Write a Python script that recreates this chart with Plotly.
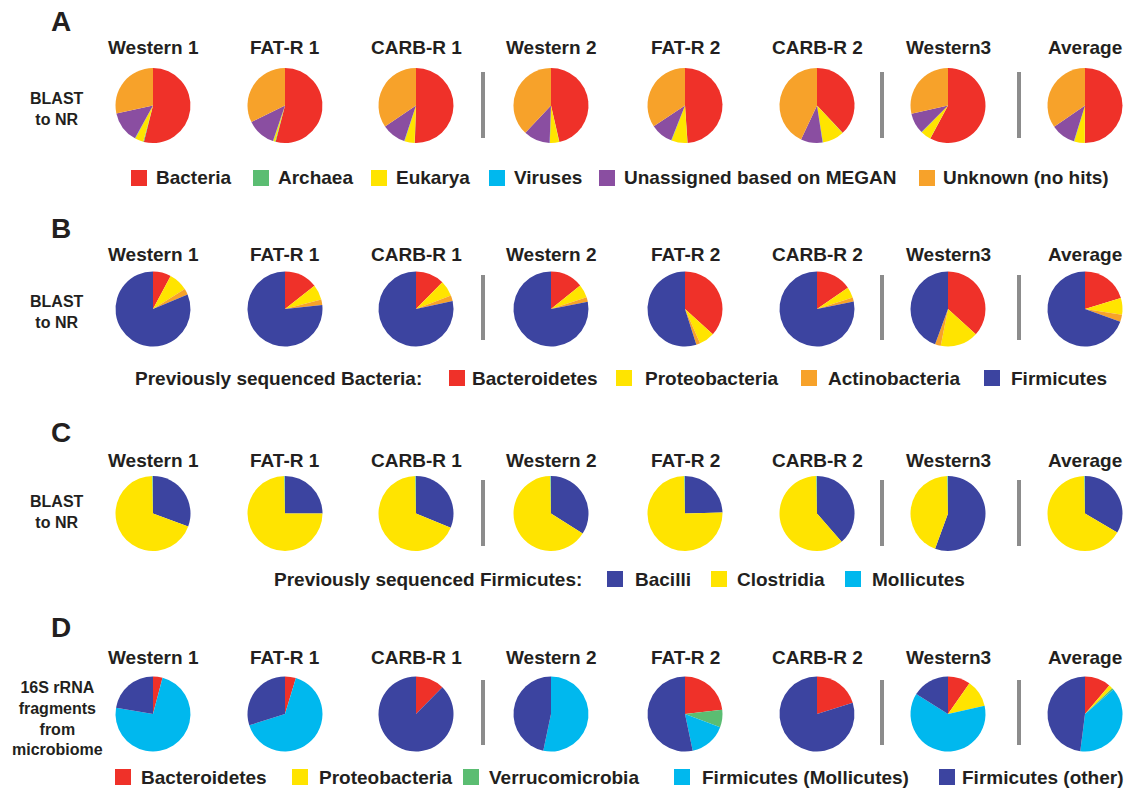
import plotly.graph_objects as go

# ---- data -------------------------------------------------------------
samples = ["Western 1", "FAT-R 1", "CARB-R 1", "Western 2",
           "FAT-R 2", "CARB-R 2", "Western3", "Average"]

# Panel A: domain-level assignment (BLAST to NR), % of reads
a_categories = ["Bacteria", "Archaea", "Eukarya", "Viruses",
                "Unassigned based on MEGAN", "Unknown (no hits)"]
a_bacteria = [53.9, 54.0, 50.5, 46.4, 48.9, 38.0, 57.8, 50.0]
a_archaea = [0.3, 0.3, 0.1, 0.1, 0.1, 0.1, 0.1, 0.1]
a_eukarya = [3.7, 0.8, 4.4, 4.0, 6.9, 9.4, 4.5, 4.6]
a_viruses = [0.1, 0.1, 0.1, 0.1, 0.1, 0.1, 0.1, 0.1]
a_unassigned = [13.6, 12.5, 10.4, 11.4, 9.7, 9.4, 9.0, 10.6]
a_unknown = [28.4, 32.3, 34.5, 38.0, 34.3, 43.0, 28.5, 34.6]

# Panel B: previously sequenced Bacteria, % of bacterial reads
b_categories = ["Bacteroidetes", "Proteobacteria", "Actinobacteria", "Firmicutes"]
b_bacteroidetes = [7.8, 14.4, 12.4, 14.2, 36.7, 15.4, 36.7, 20.3]
b_proteobacteria = [8.3, 6.5, 6.7, 5.7, 6.7, 4.6, 16.4, 7.2]
b_actinobacteria = [2.6, 2.4, 2.5, 2.0, 1.7, 1.8, 2.5, 3.0]
b_firmicutes = [81.3, 76.7, 78.4, 78.1, 54.9, 78.2, 44.4, 69.5]

# Panel C: previously sequenced Firmicutes, % of Firmicutes reads
c_categories = ["Bacilli", "Clostridia", "Mollicutes"]
c_bacilli = [30.6, 25.0, 31.2, 34.0, 24.6, 38.6, 55.6, 33.5]
c_clostridia = [69.2, 74.8, 68.6, 65.8, 75.2, 61.2, 44.2, 66.3]
c_mollicutes = [0.2, 0.2, 0.2, 0.2, 0.2, 0.2, 0.2, 0.2]

# Panel D: 16S rRNA fragments from microbiome, % of 16S reads
d_categories = ["Bacteroidetes", "Proteobacteria", "Verrucomicrobia",
                "Firmicutes (Mollicutes)", "Firmicutes (other)"]
d_bacteroidetes = [4.1, 4.7, 12.4, 0.0, 23.2, 20.1, 9.7, 11.2]
d_proteobacteria = [0.0, 0.0, 0.0, 0.0, 0.0, 0.0, 11.8, 1.7]
d_verrucomicrobia = [0.0, 0.0, 0.0, 0.0, 7.5, 0.0, 0.0, 0.8]
d_mollicutes = [73.6, 65.4, 0.0, 53.3, 16.0, 0.0, 62.4, 38.3]
d_other = [22.3, 29.9, 87.6, 46.7, 53.3, 79.9, 16.1, 48.0]

# ---- styling ----------------------------------------------------------
RED, GREEN, YELLOW = "#ef3129", "#5bbd72", "#ffe400"
CYAN, PURPLE, ORANGE, BLUE = "#00b8ee", "#8a4ea1", "#f7a22a", "#3c44a0"
TEXT = "#231f20"
FONT = "Liberation Sans, Arial, sans-serif"
LABEL_SIZE = 19

W, H = 1130, 790
col_x = [153, 285, 416, 551, 685, 817, 948, 1085]
sep_x = [483, 882, 1019]
PIE_D = 75

panels = [
    dict(letter="A", letter_y=21, title_y=48, pie_y=105.5, sep=(72, 138),
         side="BLAST<br>to NR", side_y=109,
         cats=a_categories,
         series=[a_bacteria, a_archaea, a_eukarya, a_viruses, a_unassigned, a_unknown],
         colors=[RED, GREEN, YELLOW, CYAN, PURPLE, ORANGE],
         leg_y=178, leg_prefix=None,
         leg_sq=[131, 253, 371, 489, 599, 919],
         leg_tx=[154, 276, 394, 512, 622, 941]),
    dict(letter="B", letter_y=228, title_y=255, pie_y=309, sep=(275, 340),
         side="BLAST<br>to NR", side_y=312,
         cats=b_categories,
         series=[b_bacteroidetes, b_proteobacteria, b_actinobacteria, b_firmicutes],
         colors=[RED, YELLOW, ORANGE, BLUE],
         leg_y=378, leg_prefix=("Previously sequenced Bacteria:", 133),
         leg_sq=[449, 616, 801, 984],
         leg_tx=[470, 643, 826, 1009]),
    dict(letter="C", letter_y=432, title_y=460, pie_y=513.5, sep=(480, 546),
         side="BLAST<br>to NR", side_y=512,
         cats=c_categories,
         series=[c_bacilli, c_clostridia, c_mollicutes],
         colors=[BLUE, YELLOW, CYAN],
         leg_y=579, leg_prefix=("Previously sequenced Firmicutes:", 272),
         leg_sq=[607, 711, 845],
         leg_tx=[633, 735, 870]),
    dict(letter="D", letter_y=627, title_y=657, pie_y=714, sep=(680, 745),
         side="16S rRNA<br>fragments<br>from<br>microbiome", side_y=718,
         cats=d_categories,
         series=[d_bacteroidetes, d_proteobacteria, d_verrucomicrobia, d_mollicutes, d_other],
         colors=[RED, YELLOW, GREEN, CYAN, BLUE],
         leg_y=777, leg_prefix=None,
         leg_sq=[115, 292, 463, 674, 939],
         leg_tx=[139, 317, 487, 700, 960]),
]


def px(x):
    return x / W


def py(y):
    return 1 - y / H


fig = go.Figure()
annotations = []
shapes = []


def add_text(text, x, y, size, xanchor="center", yanchor="middle", align="center"):
    annotations.append(dict(
        text=text, x=px(x), y=py(y), xref="paper", yref="paper",
        xanchor=xanchor, yanchor=yanchor, align=align, showarrow=False,
        font=dict(family=FONT, size=size, color=TEXT)))


for p in panels:
    # panel letter and row label
    add_text("<b>%s</b>" % p["letter"], 49, p["letter_y"], 28, xanchor="left")
    add_text("<b>%s</b>" % p["side"], 57, p["side_y"], 16)

    for i, name in enumerate(samples):
        cx = col_x[i]
        add_text("<b>%s</b>" % name, cx, p["title_y"], LABEL_SIZE)
        vals = [s[i] for s in p["series"]]
        fig.add_trace(go.Pie(
            labels=p["cats"], values=vals,
            marker=dict(colors=p["colors"], line=dict(width=0)),
            sort=False, direction="clockwise", rotation=0,
            textinfo="none", hoverinfo="label+percent", showlegend=False,
            domain=dict(x=[px(cx - PIE_D / 2), px(cx + PIE_D / 2)],
                        y=[py(p["pie_y"] + PIE_D / 2), py(p["pie_y"] - PIE_D / 2)]),
        ))

    # vertical separators between sample groups
    for sx in sep_x:
        shapes.append(dict(type="line", xref="paper", yref="paper",
                           x0=px(sx), x1=px(sx),
                           y0=py(p["sep"][0]), y1=py(p["sep"][1]),
                           line=dict(color="#8c8c8c", width=4)))

    # legend row
    if p["leg_prefix"]:
        add_text("<b>%s</b>" % p["leg_prefix"][0], p["leg_prefix"][1],
                 p["leg_y"], LABEL_SIZE, xanchor="left")
    for cat, col, sq, tx in zip(p["cats"], p["colors"], p["leg_sq"], p["leg_tx"]):
        shapes.append(dict(type="rect", xref="paper", yref="paper",
                           x0=px(sq), x1=px(sq + 16),
                           y0=py(p["leg_y"] + 8), y1=py(p["leg_y"] - 8),
                           fillcolor=col, line=dict(width=0)))
        add_text("<b>%s</b>" % cat, tx, p["leg_y"], LABEL_SIZE, xanchor="left")

fig.update_layout(
    width=W, height=H,
    margin=dict(l=0, r=0, t=0, b=0),
    paper_bgcolor="white", plot_bgcolor="white",
    annotations=annotations, shapes=shapes,
    font=dict(family=FONT, color=TEXT),
)

fig.write_html("out.html")
